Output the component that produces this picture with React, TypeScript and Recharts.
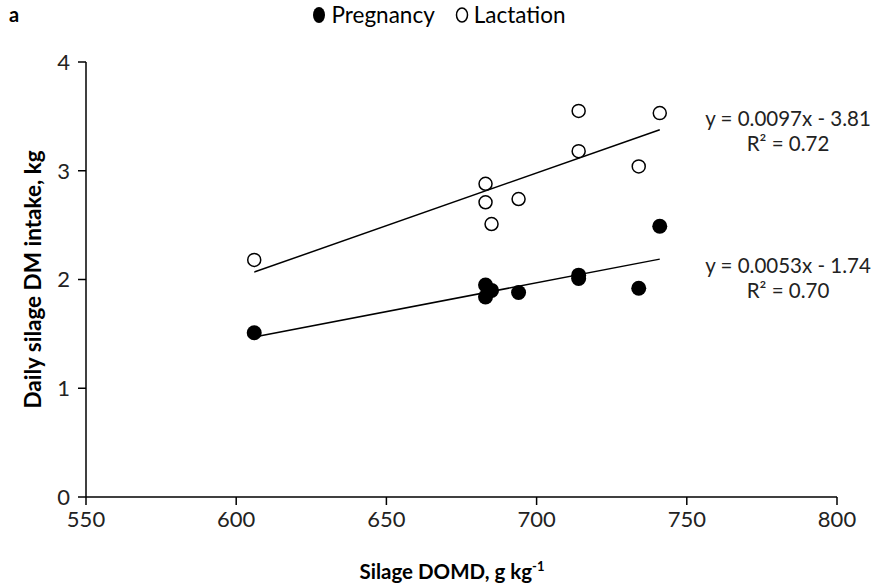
import { ScatterChart, Scatter, XAxis, YAxis } from "recharts";

// silage DOMD (g/kg) and daily DM intake (kg)
const pregnancyX = [606, 683, 685, 683, 694, 714, 714, 734, 741];
const pregnancyY = [1.51, 1.95, 1.9, 1.84, 1.88, 2.04, 2.01, 1.92, 2.49];

const lactationX = [606, 683, 683, 685, 694, 714, 714, 734, 741];
const lactationY = [2.18, 2.88, 2.71, 2.51, 2.74, 3.55, 3.18, 3.04, 3.53];

const xTicks = [550, 600, 650, 700, 750, 800];
const yTicks = [0, 1, 2, 3, 4];

// fitted lines, y = slope * x + intercept, drawn over the data range
const fitRange = [606, 741];
const pregnancyFit = { slope: 0.0053, intercept: -1.74, label: "y = 0.0053x - 1.74", r2: "R² = 0.70" };
const lactationFit = { slope: 0.0097, intercept: -3.81, label: "y = 0.0097x - 3.81", r2: "R² = 0.72" };

const FONT = "Lato, 'Open Sans', sans-serif";

const toPoints = (xs: number[], ys: number[]) => xs.map((x, i) => ({ x, y: ys[i] }));
const fitPoints = (f: { slope: number; intercept: number }) =>
  fitRange.map((x) => ({ x, y: f.slope * x + f.intercept }));

const noShape = () => <g />;

const XTitle = () => (
  <text x={452} y={579} textAnchor="middle" fontFamily={FONT} fontSize={20.5} fontWeight={700} fill="#000">
    Silage DOMD, g kg
    <tspan dy={-8} fontSize={13}>-1</tspan>
  </text>
);

export default function App() {
  return (
    <div style={{ position: "absolute", left: 0, top: 0, width: 878, height: 588, background: "#fff", fontFamily: FONT }}>
      <ScatterChart width={878} height={588} margin={{ top: 62, right: 41, bottom: 61, left: 0 }}>
        <XAxis
          type="number"
          dataKey="x"
          domain={[550, 800]}
          ticks={xTicks}
          height={30}
          tickSize={8}
          tickMargin={6}
          stroke="#000"
          strokeWidth={1.5}
          tick={{ fill: "#222", fontSize: 22, fontFamily: FONT }}
          label={{ content: XTitle }}
        />
        <YAxis
          type="number"
          dataKey="y"
          domain={[0, 4]}
          ticks={yTicks}
          width={86}
          tickSize={8}
          tickMargin={8}
          stroke="#000"
          strokeWidth={1.5}
          tick={{ fill: "#222", fontSize: 22, fontFamily: FONT }}
          label={{
            value: "Daily silage DM intake, kg",
            angle: -90,
            position: "insideLeft",
            dx: 28,
            dy: 0,
            style: { textAnchor: "middle", fontSize: 22.5, fontWeight: 700, fill: "#000", fontFamily: FONT },
          }}
        />
        <Scatter
          data={fitPoints(lactationFit)}
          line={{ stroke: "#000", strokeWidth: 1.5 }}
          shape={noShape}
          isAnimationActive={false}
        />
        <Scatter
          data={fitPoints(pregnancyFit)}
          line={{ stroke: "#000", strokeWidth: 1.5 }}
          shape={noShape}
          isAnimationActive={false}
        />
        <Scatter
          data={toPoints(lactationX, lactationY)}
          shape={(p: any) => <circle cx={p.cx} cy={p.cy} r={6.5} fill="#fff" stroke="#000" strokeWidth={1.5} />}
          isAnimationActive={false}
        />
        <Scatter
          data={toPoints(pregnancyX, pregnancyY)}
          shape={(p: any) => <circle cx={p.cx} cy={p.cy} r={7.5} fill="#000" />}
          isAnimationActive={false}
        />
      </ScatterChart>

      <div style={{ position: "absolute", left: 9, top: 2, fontSize: 20, fontWeight: 700 }}>a</div>

      <div
        style={{
          position: "absolute",
          left: 0,
          width: 878,
          top: 1,
          fontSize: 22.5,
          display: "flex",
          justifyContent: "center",
          alignItems: "center",
          gap: 20,
          paddingLeft: 0,
          color: "#000",
        }}
      >
        <span style={{ display: "flex", alignItems: "center", gap: 5 }}>
          <svg width={14} height={18}>
            <ellipse cx={7} cy={9} rx={6} ry={8} fill="#000" />
          </svg>
          Pregnancy
        </span>
        <span style={{ display: "flex", alignItems: "center", gap: 5 }}>
          <svg width={14} height={18}>
            <ellipse cx={7} cy={9} rx={5.5} ry={7} fill="#fff" stroke="#000" strokeWidth={1.5} />
          </svg>
          Lactation
        </span>
      </div>

      {[
        { fit: lactationFit, top: 106 },
        { fit: pregnancyFit, top: 253 },
      ].map(({ fit, top }) => (
        <div
          key={fit.label}
          style={{ position: "absolute", left: 700, width: 176, top, textAlign: "center", fontSize: 20.5, lineHeight: "25px", color: "#222" }}
        >
          <div>{fit.label}</div>
          <div>{fit.r2}</div>
        </div>
      ))}
    </div>
  );
}
